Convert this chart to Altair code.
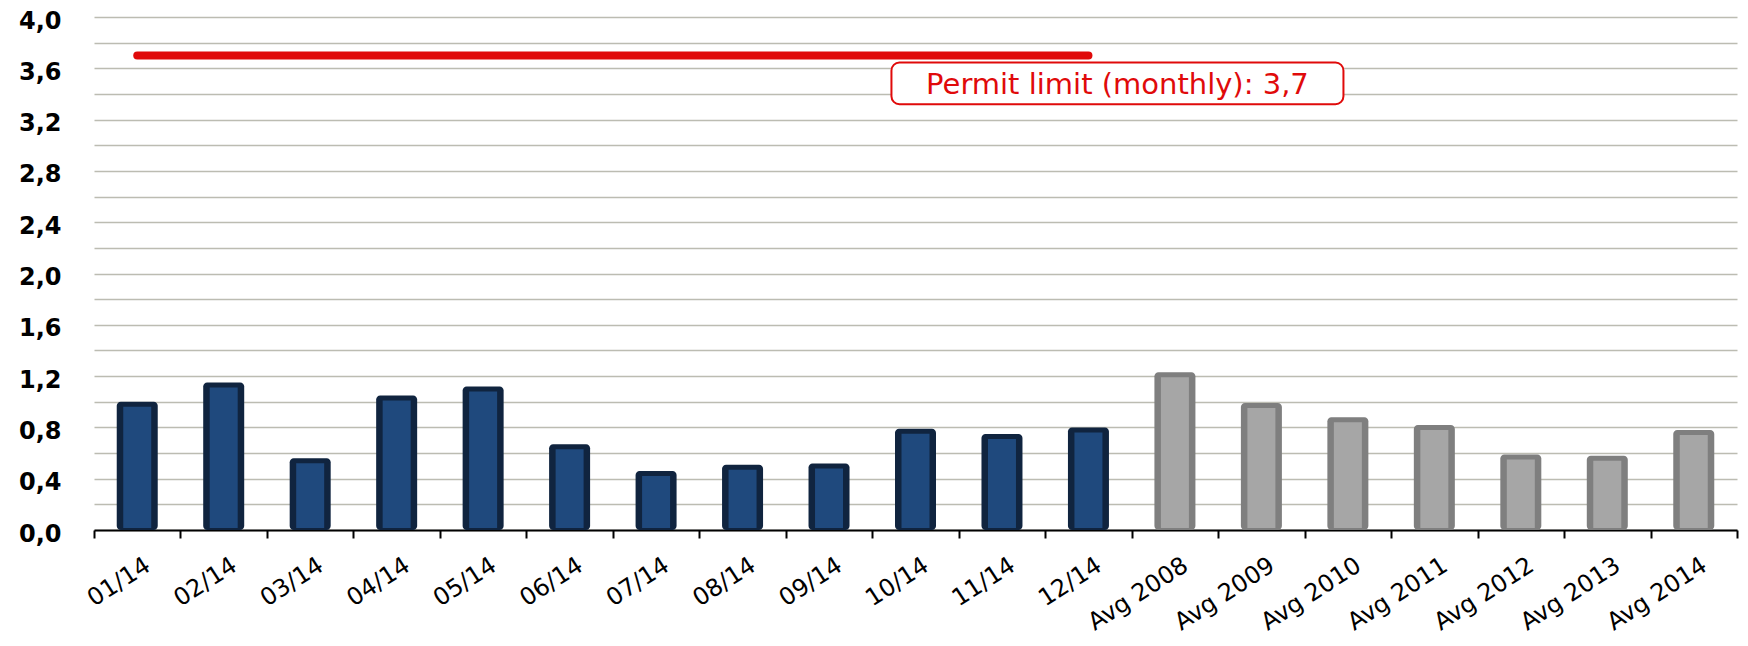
import altair as alt
import pandas as pd

# ---- data ----
categories = ["01/14", "02/14", "03/14", "04/14", "05/14", "06/14", "07/14",
              "08/14", "09/14", "10/14", "11/14", "12/14",
              "Avg 2008", "Avg 2009", "Avg 2010", "Avg 2011", "Avg 2012",
              "Avg 2013", "Avg 2014"]
values = [0.98, 1.13, 0.54, 1.03, 1.10, 0.65, 0.44, 0.49, 0.50, 0.77, 0.73, 0.78,
          1.21, 0.97, 0.86, 0.80, 0.57, 0.56, 0.76]
groups = ["month"] * 12 + ["avg"] * 7

limit_value = [3.7]
limit_start = ["01/14"]
limit_end = ["12/14"]
limit_label = ["Permit limit (monthly): 3,7"]
label_anchor = ["12/14"]
label_box_top = [3.645]
label_box_bottom = [3.32]
label_text_baseline = [3.40]

y_tick_values = [0.0, 0.2, 0.4, 0.6, 0.8, 1.0, 1.2, 1.4, 1.6, 1.8, 2.0,
                 2.2, 2.4, 2.6, 2.8, 3.0, 3.2, 3.4, 3.6, 3.8, 4.0]

bars_df = pd.DataFrame({"cat": categories, "value": values, "group": groups})
rule_df = pd.DataFrame({"cat": limit_start, "cat2": limit_end, "value": limit_value})
box_df = pd.DataFrame({"cat": label_anchor, "value": label_box_top, "value2": label_box_bottom})
text_df = pd.DataFrame({"cat": label_anchor, "value": label_text_baseline, "label": limit_label})

FONT = "DejaVu Sans"
RED = "#e00a0a"
NAVY_FILL, NAVY_EDGE = "#1f497d", "#10243f"
GRAY_FILL, GRAY_EDGE = "#a6a6a6", "#7f7f7f"

x_enc = alt.X(
    "cat:N", sort=categories,
    scale=alt.Scale(domain=categories, paddingInner=0, paddingOuter=0),
    axis=alt.Axis(title=None, labelAngle=-33, labelAlign="right", labelBaseline="top",
                  labelFont=FONT, labelFontSize=24, labelColor="black",
                  labelPadding=15, labelOffset=4,
                  tickBand="extent", tickSize=8, tickWidth=2, tickColor="black",
                  domainColor="black", domainWidth=2, grid=False, labelOverlap=False),
)
y_enc = alt.Y(
    "value:Q",
    scale=alt.Scale(domain=[0, 4], nice=False, zero=True),
    axis=alt.Axis(title=None, values=y_tick_values,
                  labelExpr="(round(datum.value*10) % 4 == 0) ? replace(format(datum.value, '.1f'), '.', ',') : ''",
                  labelFont=FONT, labelFontSize=24, labelFontWeight="bold", labelColor="black",
                  labelPadding=33, labelOffset=4, domain=False, ticks=False,
                  gridColor="#bcbcb2", gridWidth=1.3),
)
is_month = alt.datum.group == "month"

# outer bar = border colour, inner bar = fill colour
bars_outer = alt.Chart(bars_df).mark_bar(width=41, yOffset=-2.5, cornerRadius=4).encode(
    x=x_enc, y=y_enc, y2=alt.Y2(datum=0),
    fill=alt.condition(is_month, alt.value(NAVY_EDGE), alt.value(GRAY_EDGE)),
)
bars_inner = alt.Chart(bars_df).mark_bar(width=28, yOffset=2.5, y2Offset=-2).encode(
    x=x_enc, y=y_enc, y2=alt.Y2(datum=0),
    fill=alt.condition(is_month, alt.value(NAVY_FILL), alt.value(GRAY_FILL)),
)

rule = alt.Chart(rule_df).mark_rule(color=RED, strokeWidth=8, strokeCap="round").encode(
    x=x_enc, x2="cat2:N", y=y_enc,
)

box = alt.Chart(box_df).mark_bar(width=452, xOffset=29, cornerRadius=8, fill="white",
                                 stroke=RED, strokeWidth=2).encode(
    x=x_enc, y=y_enc, y2="value2:Q",
)

text = alt.Chart(text_df).mark_text(xOffset=29, font=FONT, fontSize=29, color=RED,
                                    baseline="alphabetic", align="center").encode(
    x=x_enc, y=y_enc, text="label:N",
)

chart = alt.layer(bars_outer, bars_inner, rule, box, text).properties(
    width=1643, height=513,
    padding={"left": 86, "top": 9, "right": 3, "bottom": 106},
    autosize=alt.AutoSizeParams(type="none"),
    background="white",
).configure_view(stroke=None)

chart.save("out.html", embed_options={"renderer": "svg", "actions": False})
